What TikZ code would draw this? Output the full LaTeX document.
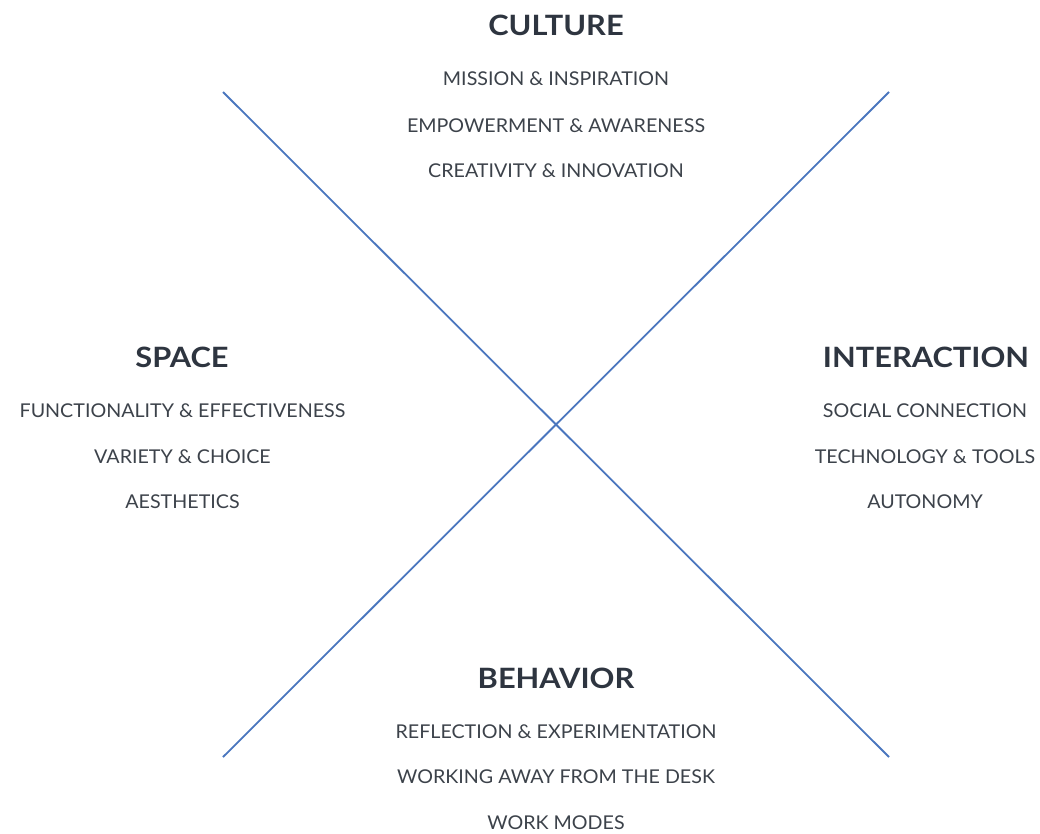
\documentclass[tikz,border=0pt]{standalone}
\usepackage{fontspec}
\setmainfont{Lato}
\newfontfamily\headfont[FakeStretch=1.1]{Lato}
\newfontfamily\itemfont[FakeStretch=1.035]{Lato}
\definecolor{xline}{HTML}{4A76BE}
\definecolor{headc}{HTML}{2E3540}
\definecolor{bodyc}{HTML}{3C424A}
\begin{document}
\begin{tikzpicture}[x=1pt,y=-1pt,
  head/.style={font=\headfont\fontsize{28}{31}\selectfont\bfseries, text=headc, inner sep=0pt, anchor=center},
  item/.style={font=\itemfont\fontsize{19}{22}\selectfont, text=bodyc, inner sep=0pt, anchor=center},
  xl/.style={draw=xline, line width=1.8pt}]
\useasboundingbox (0,0) rectangle (1040,833);
\coordinate (tl) at (223,92);
\coordinate (br) at (889,757);
\coordinate (tr) at (889,92);
\coordinate (bl) at (223,757);
\draw[xl] (tl) -- (br);
\draw[xl] (tr) -- (bl);
% Culture
\node[head] (cul) at (556,25) {CULTURE};
\node[item] (c1) at (556,79) {MISSION \& INSPIRATION};
\node[item] (c2) at (556,126) {EMPOWERMENT \& AWARENESS};
\node[item] (c3) at (556,171) {CREATIVITY \& INNOVATION};
% Space
\node[head] (spa) at (182,357) {SPACE};
\node[item] (s1) at (182.5,411) {FUNCTIONALITY \& EFFECTIVENESS};
\node[item] (s2) at (182.5,457) {VARIETY \& CHOICE};
\node[item] (s3) at (182.5,502) {AESTHETICS};
% Interaction
\node[head] (int) at (926,357) {INTERACTION};
\node[item] (i1) at (925,411) {SOCIAL CONNECTION};
\node[item] (i2) at (925,457) {TECHNOLOGY \& TOOLS};
\node[item] (i3) at (925,502) {AUTONOMY};
% Behavior
\node[head] (beh) at (556,678) {BEHAVIOR};
\node[item] (b1) at (556,732) {REFLECTION \& EXPERIMENTATION};
\node[item] (b2) at (556,777) {WORKING AWAY FROM THE DESK};
\node[item] (b3) at (556,823) {WORK MODES};
\end{tikzpicture}
\end{document}
